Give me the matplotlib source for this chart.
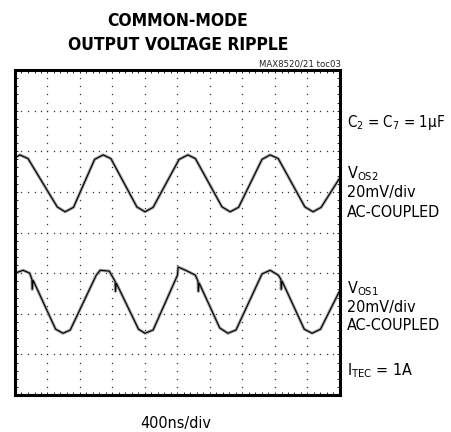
import numpy as np
import matplotlib
matplotlib.use("Agg")
import matplotlib.pyplot as plt

plt.rcParams['font.family'] = ['DejaVu Sans']
plt.rcParams['font.stretch'] = 'condensed'
plt.rcParams['mathtext.default'] = 'regular'

# Waveform key points (time in divisions, amplitude in divisions)
t_vos2 = [0, 0.15, 0.4, 1.3, 1.54, 1.8, 2.45, 2.71, 2.95, 3.75, 4.0, 4.25,
          5.05, 5.32, 5.55, 6.37, 6.62, 6.88, 7.6, 7.85, 8.1, 8.92, 9.17, 9.42, 10]
v_vos2 = [5.84, 5.91, 5.82, 4.63, 4.51, 4.62, 5.8, 5.91, 5.82, 4.63, 4.51, 4.62,
          5.8, 5.91, 5.82, 4.63, 4.51, 4.62, 5.8, 5.91, 5.82, 4.63, 4.51, 4.62, 5.35]

t_vos1 = [0, 0.25, 0.45, 0.52, 0.53, 0.56, 1.25, 1.48, 1.7, 2.5, 2.62, 2.9,
          3.08, 3.09, 3.12, 3.8, 4.0, 4.25, 5.0, 5.02, 5.25, 5.55, 5.63, 5.64,
          5.67, 6.3, 6.55, 6.8, 7.6, 7.85, 8.1, 8.18, 8.19, 8.22, 8.9, 9.14, 9.4, 10]
v_vos1 = [3.0, 3.07, 3.0, 2.85, 2.6, 2.82, 1.62, 1.52, 1.6, 2.95, 3.07, 3.05,
          2.8, 2.55, 2.75, 1.62, 1.52, 1.6, 2.95, 3.15, 3.07, 2.95, 2.8, 2.55,
          2.75, 1.65, 1.52, 1.6, 2.98, 3.07, 2.95, 2.85, 2.6, 2.8, 1.62, 1.52, 1.62, 2.58]

title_lines = ["COMMON-MODE", "OUTPUT VOLTAGE RIPPLE"]
tag = "MAX8520/21 toc03"
xlabel = "400ns/div"

W, H = 451, 432
fig = plt.figure(figsize=(W/100, H/100), dpi=100)
ax = fig.add_axes([15/W, 37/H, 325/W, 325/H])
ax.set_xlim(0, 10)
ax.set_ylim(0, 8)

# graticule dots
for k in range(1, 8):
    xs = np.arange(0, 10.001, 0.2)
    ax.plot(xs, np.full_like(xs, k), ls='none', marker='s', ms=0.9, color='#333333', mew=0)
for k in range(1, 10):
    ys = np.arange(0, 8.001, 0.2)
    ax.plot(np.full_like(ys, k), ys, ls='none', marker='s', ms=0.9, color='#333333', mew=0)

for t, v in [(t_vos2, v_vos2), (t_vos1, v_vos1)]:
    ax.plot(t, v, color='#a0a0a0', lw=2.2, solid_joinstyle='round')
    ax.plot(t, v, color='black', lw=0.8, solid_joinstyle='round')

ax.set_xticks(np.arange(0, 10.001, 0.2), minor=True)
ax.set_yticks(np.arange(0, 8.001, 0.2), minor=True)
ax.set_xticks([]); ax.set_yticks([])
ax.tick_params(which='minor', direction='in', length=2.5, width=0.6,
               top=True, right=True, labelbottom=False, labelleft=False)
for s in ax.spines.values():
    s.set_linewidth(2.2)

def ft(x, yb, s, **kw):
    fig.text(x/W, 1 - yb/H, s, va='baseline', **kw)

ft(178, 26, title_lines[0], ha='center', fontsize=12.5, fontweight='bold')
ft(178, 50, title_lines[1], ha='center', fontsize=12.5, fontweight='bold')
ft(341, 66.5, tag, ha='right', fontsize=6.8, color='#222222')

def rt(yb, s, fs=11.5):
    ft(347, yb, s, ha='left', fontsize=fs)

rt(127.3, r'C$_{2}$ = C$_{7}$ = 1μF', fs=10.8)
rt(178.7, r'V$_{OS2}$')
rt(196.7, '20mV/div')
rt(217.3, 'AC-COUPLED')
rt(293.3, r'V$_{OS1}$')
rt(311.7, '20mV/div')
rt(330, 'AC-COUPLED')
rt(375, r'I$_{TEC}$ = 1A')
ft(175.5, 428.3, xlabel, ha='center', fontsize=11.5)

fig.savefig('out.png', dpi=100)
